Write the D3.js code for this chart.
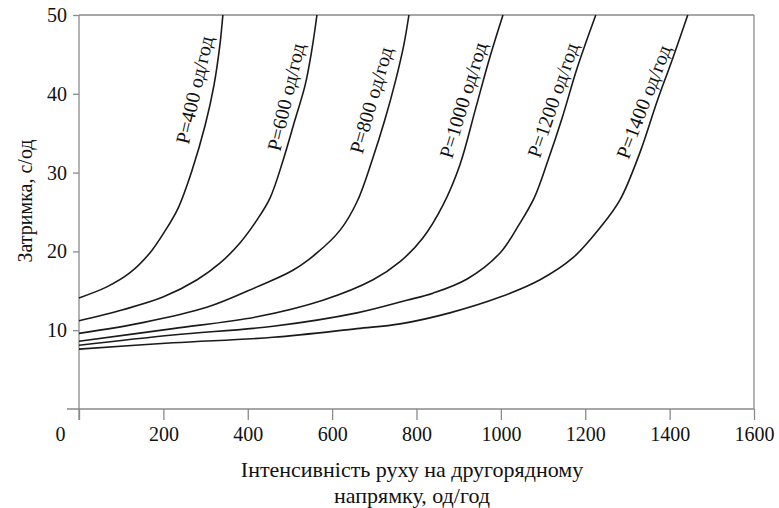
<html>
<head>
    <meta charset="utf-8">
    <title>Затримка</title>
    <script src="https://cdn.jsdelivr.net/npm/d3@7"></script>
    <style>
        body { margin: 0; background: #fff; }
    </style>
</head>
<body>
<script>
    // основний потік, од/год
    var majorFlows = [400, 600, 800, 1000, 1200, 1400];
    var xTicks = [0, 200, 400, 600, 800, 1000, 1200, 1400, 1600];
    var yTicks = [10, 20, 30, 40, 50];

    // [інтенсивність на другорядному, затримка]
    var curveP400 = [[0, 14.1], [66, 15.5], [121, 17.3], [168, 19.8], [204, 22.6], [235, 25.5],
        [268, 30.3], [299, 36.0], [320, 41.1], [334, 46.2], [341, 50]];
    var curveP600 = [[0, 11.2], [104, 12.6], [199, 14.2], [280, 16.4], [334, 18.5], [382, 21.1],
        [422, 24.0], [453, 26.8], [484, 31.6], [512, 36.7], [536, 41.1], [552, 45.6], [564, 50]];
    var curveP800 = [[0, 9.6], [145, 10.9], [303, 12.9], [422, 15.5], [507, 17.6], [564, 19.8],
        [619, 22.7], [659, 26.3], [695, 31.6], [725, 36.7], [751, 41.8], [770, 46.2], [782, 50]];
    var curveP1000 = [[0, 8.6], [223, 10.2], [422, 11.7], [578, 13.8], [697, 16.4], [761, 18.7],
        [815, 21.7], [863, 25.9], [903, 31.0], [939, 37.9], [972, 44.3], [1005, 50]];
    var curveP1200 = [[0, 8.1], [223, 9.4], [460, 10.5], [659, 12.2], [777, 13.8], [839, 14.7],
        [920, 16.5], [998, 19.8], [1043, 23.4], [1079, 26.8], [1112, 31.6], [1145, 36.9],
        [1181, 43.3], [1225, 50]];
    var curveP1400 = [[0, 7.6], [223, 8.4], [460, 9.1], [659, 10.2], [761, 10.8], [879, 12.2],
        [998, 14.2], [1093, 16.4], [1171, 19.2], [1235, 23.0], [1282, 26.5], [1330, 32.6],
        [1370, 39.0], [1406, 44.3], [1443, 50]];
    var curves = [curveP400, curveP600, curveP800, curveP1000, curveP1200, curveP1400];

    // центри підписів кривих (x, затримка) і кут
    var labelAt = [[273, 40.5], [490, 39.6], [692, 39.2], [910, 39.2], [1123, 39.2], [1338, 39.0]];
    var labelAngle = [-77, -77, -74, -73, -71, -69];

    var width = 779;
    var height = 508;
    var serif = "'Times New Roman', 'Liberation Serif', Tinos, 'Noto Serif', 'DejaVu Serif', serif";

    var svg = d3.select("body")
        .append("svg")
        .attr("width", width)
        .attr("height", height)
        .style("font-family", serif);

    var x = d3.scaleLinear().domain([0, 1600]).range([79, 754]);
    var y = d3.scaleLinear().domain([0, 50]).range([409, 15]);

    var axisColor = "#8a8a8a";

    // рамка зверху і справа
    svg.append("line")
        .attr("x1", x(0)).attr("x2", x(1600))
        .attr("y1", y(50)).attr("y2", y(50))
        .attr("stroke", axisColor).attr("stroke-width", 1.3);
    svg.append("line")
        .attr("x1", x(1600)).attr("x2", x(1600))
        .attr("y1", y(50)).attr("y2", y(0))
        .attr("stroke", axisColor).attr("stroke-width", 1.3);

    var gx = svg.append("g")
        .attr("transform", "translate(0," + y(0) + ")")
        .call(d3.axisBottom(x).tickValues(xTicks).tickFormat(d3.format("d"))
            .tickSize(11).tickSizeOuter(0).tickPadding(7));
    gx.attr("font-family", null).attr("font-size", 20);
    gx.select(".domain").remove();
    gx.append("line")
        .attr("x1", x(0) - 12).attr("x2", x(1600))
        .attr("stroke", axisColor).attr("stroke-width", 1.3);
    gx.selectAll(".tick line").attr("stroke", axisColor).attr("stroke-width", 1.3);
    gx.selectAll(".tick text")
        .attr("fill", "#111")
        .attr("dx", function(d){ return d === 0 ? -19 : 0; });

    var gy = svg.append("g")
        .attr("transform", "translate(" + x(0) + ",0)")
        .call(d3.axisLeft(y).tickValues(yTicks).tickSize(6).tickSizeOuter(0).tickPadding(6));
    gy.attr("font-family", null).attr("font-size", 20);
    gy.select(".domain").remove();
    gy.append("line")
        .attr("y1", y(50)).attr("y2", y(0) + 11)
        .attr("stroke", axisColor).attr("stroke-width", 1.3);
    gy.selectAll(".tick line").attr("stroke", axisColor).attr("stroke-width", 1.3);
    gy.selectAll(".tick text").attr("fill", "#111");

    var line = d3.line()
        .x(function(d){ return x(d[0]); })
        .y(function(d){ return y(d[1]); })
        .curve(d3.curveCatmullRom.alpha(0.5));

    svg.selectAll("path.curve")
        .data(curves)
        .enter()
        .append("path")
        .attr("class", "curve")
        .attr("d", line)
        .attr("fill", "none")
        .attr("stroke", "#1a1a1a")
        .attr("stroke-width", 1.6);

    svg.selectAll("text.lbl")
        .data(majorFlows)
        .enter()
        .append("text")
        .attr("class", "lbl")
        .attr("font-size", 20)
        .attr("fill", "#111")
        .attr("text-anchor", "middle")
        .attr("transform", function(d, i){
            return "translate(" + x(labelAt[i][0]) + "," + y(labelAt[i][1]) + ") rotate(" + labelAngle[i] + ")";
        })
        .attr("dy", "0.35em")
        .text(function(d){ return "P=" + d + " од/год"; });

    // назви осей
    svg.append("text")
        .attr("font-size", 20)
        .attr("fill", "#111")
        .attr("text-anchor", "middle")
        .attr("transform", "translate(32,201) rotate(-90)")
        .text("Затримка, с/од");

    svg.append("text")
        .attr("font-size", 22)
        .attr("fill", "#111")
        .attr("text-anchor", "middle")
        .attr("x", 412).attr("y", 477)
        .text("Інтенсивність руху на другорядному");
    svg.append("text")
        .attr("font-size", 22)
        .attr("fill", "#111")
        .attr("text-anchor", "middle")
        .attr("x", 412).attr("y", 503)
        .text("напрямку, од/год");
</script>
</body>
</html>
